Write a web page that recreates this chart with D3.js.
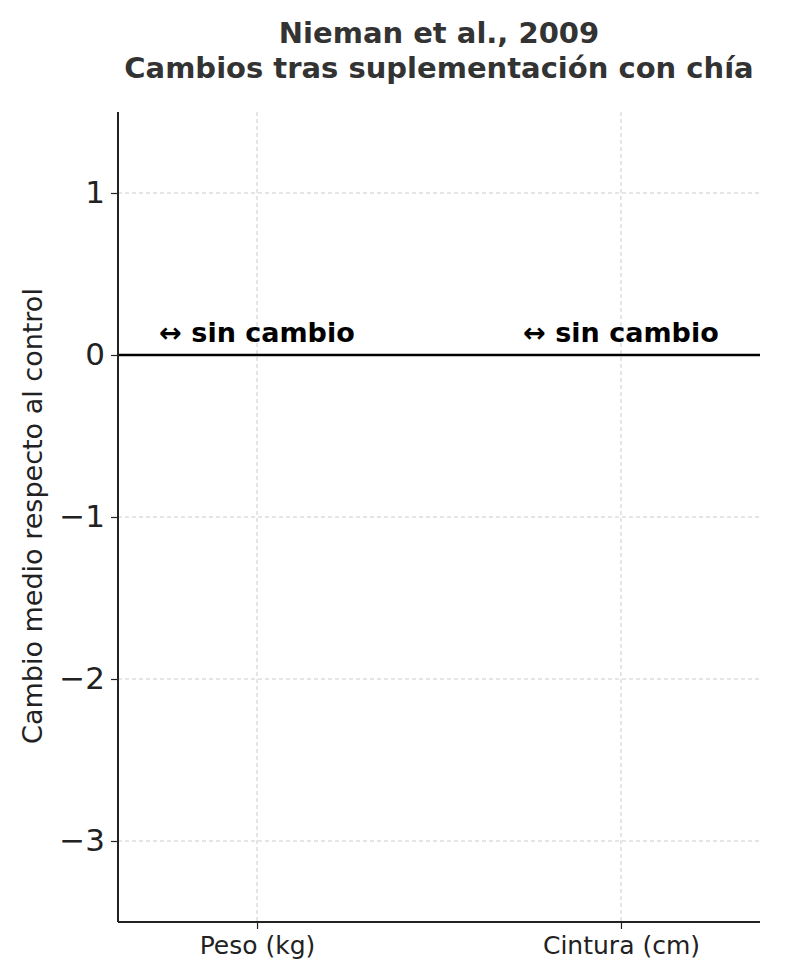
<!DOCTYPE html>
<html><head><meta charset="utf-8">
<script src="https://cdn.jsdelivr.net/npm/d3@7"></script>
<style>body{margin:0;background:#fff}text{font-family:"DejaVu Sans",sans-serif}</style>
</head><body>
<script>
const categories = ["Peso (kg)", "Cintura (cm)"];
const values = [0, 0];
const labels = ["↔ sin cambio", "↔ sin cambio"];
const yTicks = [1, 0, -1, -2, -3];
const title = ["Nieman et al., 2009", "Cambios tras suplementación con chía"];
const yLabel = "Cambio medio respecto al control";

const W = 789, H = 980, L = 118, R = 760, T = 112, B = 922;
const svg = d3.select("body").append("svg").attr("width", W).attr("height", H);
const x = d3.scaleLinear().domain([-0.382, 1.382]).range([L, R]);
const y = d3.scaleLinear().domain([-3.5, 1.5]).range([B, T]);

svg.selectAll(".gy").data(yTicks).join("line")
  .attr("x1", L).attr("x2", R).attr("y1", d => y(d)).attr("y2", d => y(d))
  .attr("stroke", "#cccccc").attr("stroke-dasharray", "4,3").attr("stroke-width", 1);
svg.selectAll(".gx").data(categories).join("line")
  .attr("x1", (d, i) => x(i)).attr("x2", (d, i) => x(i)).attr("y1", T).attr("y2", B)
  .attr("stroke", "#cccccc").attr("stroke-dasharray", "4,3").attr("stroke-width", 1);

svg.append("line").attr("x1", L).attr("x2", R).attr("y1", y(0)).attr("y2", y(0))
  .attr("stroke", "#000").attr("stroke-width", 2.5);

const ya = svg.append("g").attr("transform", `translate(${L},0)`)
  .call(d3.axisLeft(y).tickValues(yTicks).tickSize(7).tickPadding(6).tickFormat(d => d < 0 ? "\u2212" + Math.abs(d) : d));
const xa = svg.append("g").attr("transform", `translate(0,${B})`)
  .call(d3.axisBottom(x).tickValues([0, 1]).tickSize(7).tickPadding(6).tickFormat((d) => categories[d]));
[ya, xa].forEach(g => { g.select(".domain").attr("stroke", "#222").attr("stroke-width", 2); g.selectAll(".tick line").attr("stroke", "#222").attr("stroke-width", 1.2); });
ya.selectAll("text").style("font-size", "31px").attr("fill", "#222");
xa.selectAll("text").style("font-size", "25px").attr("fill", "#222").attr("dy", "0.75em");
ya.select(".domain").attr("d", `M0,${T}V${B}`);
xa.select(".domain").attr("d", `M${L},0H${R}`);

svg.selectAll(".ann").data(values).join("text")
  .attr("x", (d, i) => x(i)).attr("y", d => y(d) - 13)
  .attr("text-anchor", "middle").style("font-size", "27px").attr("font-weight", "bold").attr("fill", "#000")
  .text((d, i) => labels[i]);

svg.append("text").attr("x", 439).attr("y", 43).attr("text-anchor", "middle")
  .style("font-size", "29px").attr("font-weight", "bold").attr("fill", "#333").text(title[0]);
svg.append("text").attr("x", 439).attr("y", 78).attr("text-anchor", "middle")
  .style("font-size", "29px").attr("font-weight", "bold").attr("fill", "#333").text(title[1]);

svg.append("text").attr("transform", `translate(42,${(T + B) / 2 - 1}) rotate(-90)`)
  .attr("text-anchor", "middle").style("font-size", "27px").attr("fill", "#222").text(yLabel);
</script>
</body></html>
